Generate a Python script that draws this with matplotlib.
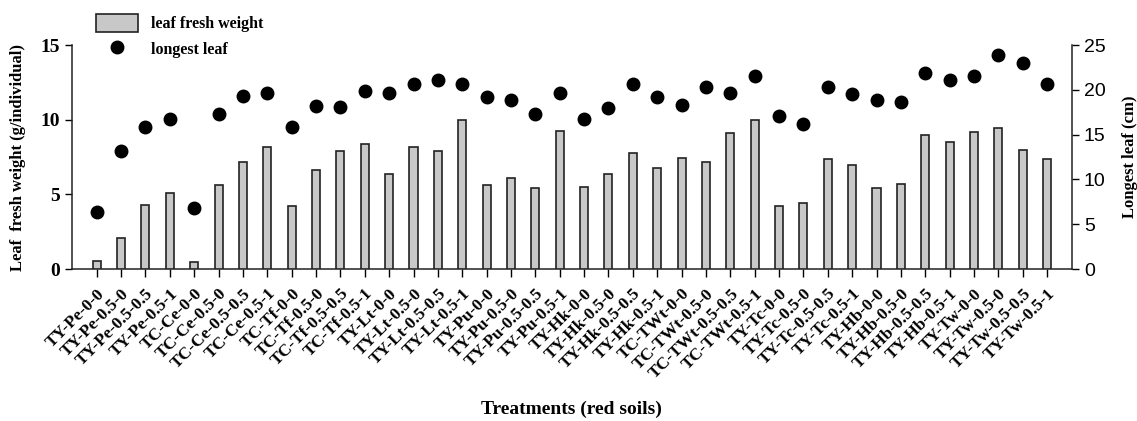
import matplotlib
matplotlib.use('Agg')
import matplotlib.pyplot as plt
import numpy as np

treatments = [
    'TY-Pe-0-0', 'TY-Pe-0.5-0', 'TY-Pe-0.5-0.5', 'TY-Pe-0.5-1',
    'TC-Ce-0-0', 'TC-Ce-0.5-0', 'TC-Ce-0.5-0.5', 'TC-Ce-0.5-1',
    'TC-Tf-0-0', 'TC-Tf-0.5-0', 'TC-Tf-0.5-0.5', 'TC-Tf-0.5-1',
    'TY-Lt-0-0', 'TY-Lt-0.5-0', 'TY-Lt-0.5-0.5', 'TY-Lt-0.5-1',
    'TY-Pu-0-0', 'TY-Pu-0.5-0', 'TY-Pu-0.5-0.5', 'TY-Pu-0.5-1',
    'TY-Hk-0-0', 'TY-Hk-0.5-0', 'TY-Hk-0.5-0.5', 'TY-Hk-0.5-1',
    'TC-TWt-0-0', 'TC-TWt-0.5-0', 'TC-TWt-0.5-0.5', 'TC-TWt-0.5-1',
    'TY-Tc-0-0', 'TY-Tc-0.5-0', 'TY-Tc-0.5-0.5', 'TY-Tc-0.5-1',
    'TY-Hb-0-0', 'TY-Hb-0.5-0', 'TY-Hb-0.5-0.5', 'TY-Hb-0.5-1',
    'TY-Tw-0-0', 'TY-Tw-0.5-0', 'TY-Tw-0.5-0.5', 'TY-Tw-0.5-1',
]

# leaf fresh weight (g/individual), left axis
fresh_weight = [
    0.55, 2.1, 4.3, 5.1,
    0.5, 5.6, 7.2, 8.15,
    4.2, 6.6, 7.9, 8.4,
    6.35, 8.15, 7.9, 10.0,
    5.65, 6.1, 5.4, 9.25,
    5.5, 6.35, 7.8, 6.75,
    7.45, 7.2, 9.1, 10.0,
    4.2, 4.4, 7.4, 6.95,
    5.4, 5.7, 8.95, 8.5,
    9.2, 9.45, 8.0, 7.4,
]

# longest leaf (cm), right axis
longest_leaf = [
    6.4, 13.2, 15.9, 16.8,
    6.8, 17.3, 19.3, 19.6,
    15.9, 18.2, 18.1, 19.9,
    19.6, 20.6, 21.1, 20.7,
    19.2, 18.9, 17.3, 19.7,
    16.8, 18.0, 20.6, 19.2,
    18.3, 20.3, 19.7, 21.5,
    17.1, 16.2, 20.3, 19.5,
    18.9, 18.6, 21.9, 21.1,
    21.6, 23.9, 23.0, 20.6,
]

serif = ['Liberation Serif', 'DejaVu Serif']
sans = ['Liberation Sans', 'DejaVu Sans']

fig = plt.figure(figsize=(11.37, 4.21), dpi=100)
ax = fig.add_axes([0.063, 0.361, 0.880, 0.532])
ax2 = ax.twinx()

x = np.arange(len(treatments))
bars = ax.bar(x, fresh_weight, width=0.33, color='#c8c8c8', edgecolor='#222222',
              linewidth=1.2, label='leaf fresh weight', zorder=3)
pts, = ax2.plot(x, longest_leaf, 'o', color='black', markersize=9,
                label='longest leaf', zorder=4)

ax.set_xlim(-1.03, len(treatments) - 1 + 1.03)
ax.set_ylim(0, 15)
ax2.set_ylim(0, 25)
ax.set_yticks([0, 5, 10, 15])
ax2.set_yticks([0, 5, 10, 15, 20, 25])

for a in (ax, ax2):
    a.spines['top'].set_visible(False)
    for s in ('left', 'right', 'bottom'):
        a.spines[s].set_linewidth(1.1)
        a.spines[s].set_color('#222222')
ax.spines['right'].set_visible(False)
ax2.spines['left'].set_visible(False)
ax2.spines['bottom'].set_visible(False)

ax.set_xticks(x)
ax.set_xticklabels(treatments, rotation=45, ha='right', rotation_mode='anchor',
                   fontfamily=serif, fontweight='bold', fontsize=12.5)
ax.tick_params(axis='x', length=6, width=1, direction='out', pad=6)
ax.tick_params(axis='y', length=5, width=1, direction='out')
ax2.tick_params(axis='y', length=5, width=1, direction='out')
for t in ax.get_yticklabels():
    t.set_fontfamily(serif)
    t.set_fontweight('bold')
    t.set_fontsize(14)
for t in ax2.get_yticklabels():
    t.set_fontfamily(sans)
    t.set_fontsize(14)

ax.set_ylabel('Leaf  fresh weight (g/individual)', fontfamily=serif,
              fontweight='bold', fontsize=12, labelpad=10)
ax2.set_ylabel('Longest leaf (cm)', fontfamily=serif, fontweight='bold',
               fontsize=12, labelpad=12)
ax.set_xlabel('Treatments (red soils)', fontfamily=serif, fontweight='bold',
              fontsize=14, labelpad=14)

fig.legend(handles=[bars, pts], loc='upper left', bbox_to_anchor=(0.072, 1.0),
           frameon=False, handlelength=2.6, handleheight=1.3, labelspacing=0.45,
           prop={'family': serif, 'weight': 'bold', 'size': 11.5})

fig.savefig('out.png', dpi=100)
